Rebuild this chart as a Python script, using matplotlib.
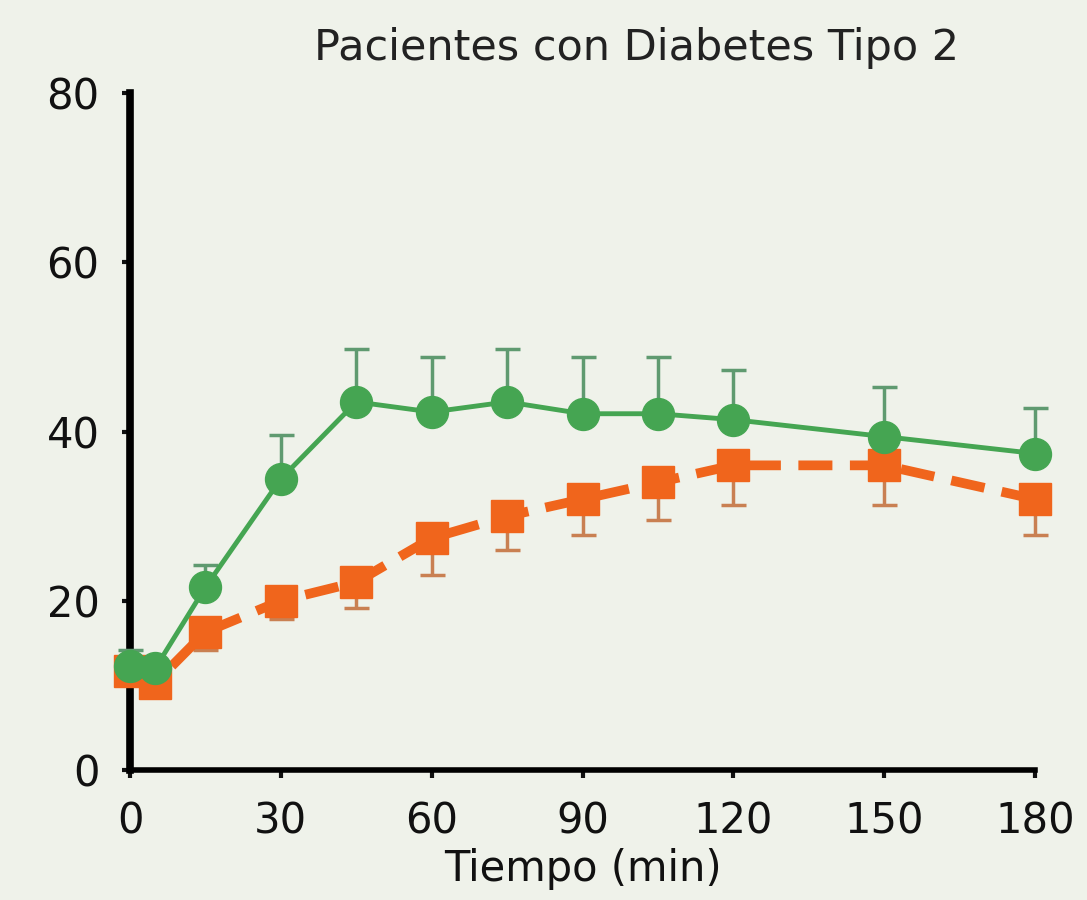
import matplotlib.pyplot as plt

# datos
tiempo = [0, 5, 15, 30, 45, 60, 75, 90, 105, 120, 150, 180]
verde = [12.3, 12.0, 21.6, 34.4, 43.5, 42.3, 43.5, 42.1, 42.1, 41.4, 39.4, 37.4]
verde_err = [1.9, 0.0, 2.6, 5.2, 6.2, 6.5, 6.2, 6.7, 6.7, 5.9, 5.8, 5.4]
naranja = [11.7, 10.3, 16.3, 20.0, 22.2, 27.4, 30.0, 32.0, 34.0, 36.0, 36.0, 32.0]
naranja_err = [0.0, 0.0, 2.1, 2.2, 3.0, 4.3, 4.0, 4.2, 4.5, 4.7, 4.7, 4.2]

fondo = '#eff2ea'
plt.rcParams['font.family'] = ['DejaVu Sans']

fig = plt.figure(figsize=(10.87, 9), dpi=100, facecolor=fondo)
ax = fig.add_axes([0.1196, 0.1444, 0.8326, 0.7523], facecolor=fondo)

# serie naranja (solo error hacia abajo)
ax.errorbar(tiempo, naranja, yerr=[naranja_err, [0] * len(naranja)], fmt='none',
            ecolor='#c98052', elinewidth=2.5, capsize=9, capthick=2.5, clip_on=False, zorder=2)
ax.plot(tiempo, naranja, color='#f0651c', lw=7, ls=(0, (3.5, 1.8)), marker='s', ms=23,
        mec='#f0651c', clip_on=False, zorder=3)

# serie verde (solo error hacia arriba)
ax.errorbar(tiempo, verde, yerr=[[0] * len(verde), verde_err], fmt='none',
            ecolor='#5f9a70', elinewidth=2.5, capsize=9, capthick=2.5, clip_on=False, zorder=4)
ax.plot(tiempo, verde, color='#45a552', lw=3.5, marker='o', ms=23,
        mec='#45a552', clip_on=False, zorder=5)

ax.set_xlim(0, 180)
ax.set_ylim(0, 80)
ax.set_xticks([0, 30, 60, 90, 120, 150, 180])
ax.set_yticks([0, 20, 40, 60, 80])

for s in ['top', 'right']:
    ax.spines[s].set_visible(False)
ax.spines['left'].set_linewidth(5.5)
ax.spines['bottom'].set_linewidth(4)
ax.tick_params(axis='both', labelsize=30, colors='#111111', width=3, length=6)
ax.tick_params(axis='x', pad=16)
ax.tick_params(axis='y', pad=16)

ax.set_title('Pacientes con Diabetes Tipo 2', fontsize=31, color='#222222', pad=24, x=0.56)
ax.set_xlabel('Tiempo (min)', fontsize=30, color='#111111', labelpad=4)

fig.savefig('out.png', dpi=100, facecolor=fondo)
